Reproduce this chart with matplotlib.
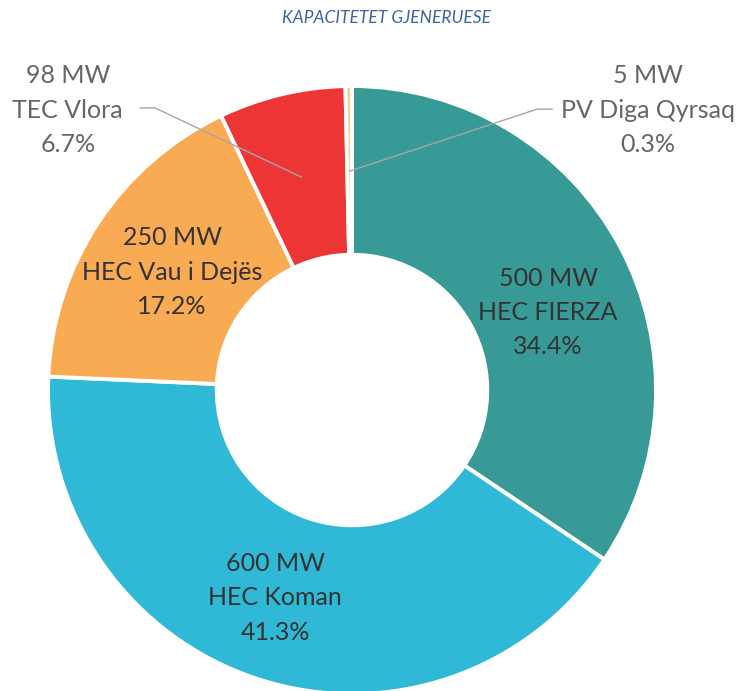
import numpy as np
import matplotlib.pyplot as plt

# capacity per plant (MW), in drawing order (clockwise from top)
names = ['HEC FIERZA', 'HEC Koman', 'HEC Vau i Dejës', 'TEC Vlora', 'PV Diga Qyrsaq']
mw = [500, 600, 250, 98, 5]
colors = ['#379a96', '#30b9d6', '#f9ab53', '#ee3535', '#f7cf94']

plt.rcParams['font.family'] = ['Lato', 'DejaVu Sans']

fig = plt.figure(figsize=(7.39, 6.91), dpi=100)
ax = fig.add_axes([0, 0, 1, 1])

wedges, _ = ax.pie(mw, colors=colors, startangle=90, counterclock=False,
                   radius=1.0, wedgeprops=dict(width=0.555, edgecolor='white', linewidth=2.8))

ax.set_xlim(-1.158, 1.273)
ax.set_ylim(-0.99, 1.283)
ax.set_aspect('auto')
ax.axis('off')

total = sum(mw)
pct = [v / total * 100 for v in mw]
labels = [f'{v} MW\n{n}\n{p:.1f}%' for v, n, p in zip(mw, names, pct)]

# inside labels for the three big slices
inner_xy = [(0.645, 0.255), (-0.253, -0.684), (-0.592, 0.388)]
for i, (x, y) in enumerate(inner_xy):
    ax.text(x, y, labels[i], ha='center', va='center', fontsize=18,
            color='#333333', linespacing=1.6)

# outside labels with leader lines for the two small slices
outer = {3: ((-0.935, 0.92), (-0.648, 0.928), (-0.697, 0.928)),
         4: ((0.974, 0.92), (0.609, 0.924), (0.658, 0.924))}
for i, (txt_xy, elbow, end) in outer.items():
    w = wedges[i]
    mid = np.deg2rad((w.theta1 + w.theta2) / 2)
    px, py = 0.72 * np.cos(mid), 0.72 * np.sin(mid)
    ax.plot([px, elbow[0], end[0]], [py, elbow[1], end[1]], color='#a6a6a6', lw=1)
    ax.text(txt_xy[0], txt_xy[1], labels[i], ha='center', va='center', fontsize=18,
            color='#666666', linespacing=1.6)

fig.text(0.523, 0.974, 'KAPACITETET GJENERUESE', ha='center', va='center',
         fontsize=12.5, style='italic', color='#3c64a5')

fig.savefig('out.png', dpi=100)
